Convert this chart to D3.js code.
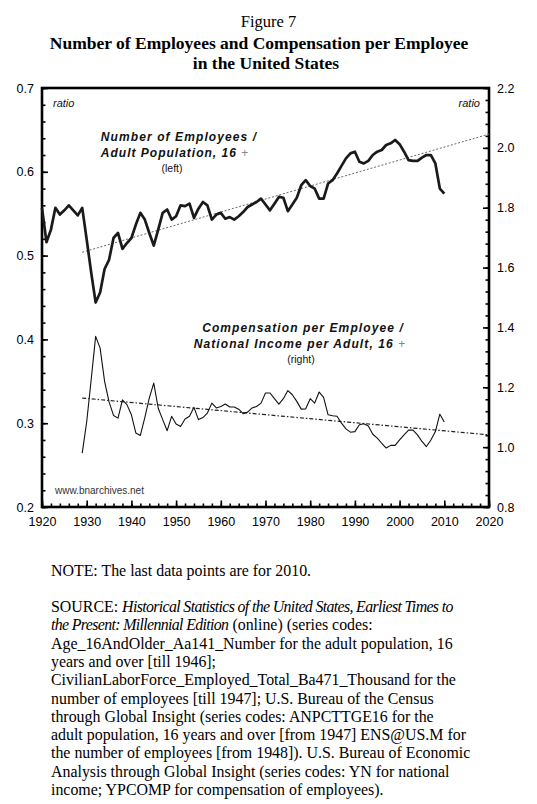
<!DOCTYPE html>
<html>
<head>
<meta charset="utf-8">
<script src="https://cdn.jsdelivr.net/npm/d3@7"></script>
<style>
  html, body { margin: 0; padding: 0; background: #fff; }
  svg { display: block; }
</style>
</head>
<body>
<svg id="chart" width="537" height="804"></svg>
<script>
// ---------------- DATA ----------------
const empStartYear = 1920;
// Number of employees / adult population 16+ (left axis), 1920-2010
const employeesRatio = [
  0.557, 0.516, 0.531, 0.557, 0.549, 0.554, 0.560, 0.554, 0.548, 0.557,
  0.519, 0.480, 0.444, 0.456, 0.484, 0.495, 0.521, 0.527, 0.508, 0.515,
  0.521, 0.537, 0.551, 0.543, 0.527, 0.512, 0.531, 0.551, 0.555, 0.543,
  0.547, 0.560, 0.559, 0.562, 0.545, 0.556, 0.564, 0.560, 0.543, 0.549,
  0.551, 0.544, 0.546, 0.543, 0.547, 0.552, 0.558, 0.561, 0.564, 0.568,
  0.561, 0.554, 0.562, 0.570, 0.569, 0.553, 0.561, 0.569, 0.584, 0.590,
  0.583, 0.580, 0.568, 0.568, 0.586, 0.590, 0.598, 0.607, 0.616, 0.622,
  0.624, 0.612, 0.610, 0.613, 0.620, 0.624, 0.626, 0.632, 0.634, 0.638,
  0.633, 0.624, 0.614, 0.613, 0.613, 0.617, 0.620, 0.620, 0.610, 0.580,
  0.574
];
const compStartYear = 1929;
// Compensation per employee / national income per adult 16+ (right axis), 1929-2010
const compensationRatio = [
  0.980,
  1.085, 1.225, 1.370, 1.331, 1.220, 1.151, 1.106, 1.097, 1.158, 1.142,
  1.108, 1.047, 1.039, 1.099, 1.164, 1.214, 1.130, 1.092, 1.055, 1.103,
  1.077, 1.069, 1.094, 1.103, 1.133, 1.092, 1.099, 1.114, 1.147, 1.131,
  1.136, 1.144, 1.134, 1.134, 1.127, 1.112, 1.117, 1.131, 1.136, 1.147,
  1.181, 1.181, 1.162, 1.144, 1.162, 1.189, 1.175, 1.153, 1.127, 1.128,
  1.162, 1.147, 1.184, 1.166, 1.108, 1.105, 1.103, 1.080, 1.061, 1.050,
  1.052, 1.075, 1.078, 1.071, 1.043, 1.030, 1.013, 0.997, 1.006, 1.006,
  1.024, 1.041, 1.057, 1.057, 1.041, 1.019, 1.002, 1.024, 1.052, 1.110,
  1.084
];
// Trend lines (endpoints)
const trendYears = [1929, 2020];
const empTrend = [0.504, 0.645];
const compTrend = [1.164, 1.041];

// Axis ticks
const xTicks = [1920, 1930, 1940, 1950, 1960, 1970, 1980, 1990, 2000, 2010, 2020];
const leftTicks = [0.2, 0.3, 0.4, 0.5, 0.6, 0.7];
const rightTicks = [0.8, 1.0, 1.2, 1.4, 1.6, 1.8, 2.0, 2.2];

// Texts
const titleLines = ["Figure 7", "Number of Employees and Compensation per Employee", "in the United States"];
const noteText = "NOTE: The last data points are for 2010.";
const sourceLines = [
  [["SOURCE: ", false], ["Historical Statistics of the United States, Earliest Times to", true]],
  [["the Present: Millennial Edition", true], [" (online) (series codes:", false]],
  [["Age_16AndOlder_Aa141_Number for the adult population, 16", false]],
  [["years and over [till 1946];", false]],
  [["CivilianLaborForce_Employed_Total_Ba471_Thousand for the", false]],
  [["number of employees [till 1947]; U.S. Bureau of the Census", false]],
  [["through Global Insight (series codes: ANPCTTGE16 for the", false]],
  [["adult population, 16 years and over [from 1947] ENS@US.M for", false]],
  [["the number of employees [from 1948]). U.S. Bureau of Economic", false]],
  [["Analysis through Global Insight (series codes: YN for national", false]],
  [["income; YPCOMP for compensation of employees).", false]]
];

// ---------------- LAYOUT ----------------
const svg = d3.select("#chart");
const L = 42, R = 489, T = 88, B = 507;
const sans = "'Liberation Sans', Arial, Helvetica, sans-serif";
const serif = "'Liberation Serif', 'Times New Roman', serif";

const x = d3.scaleLinear().domain([1920, 2020]).range([L, R]);
const yL = d3.scaleLinear().domain([0.2, 0.7]).range([B, T]);
const yR = d3.scaleLinear().domain([0.8, 2.2]).range([B, T]);

// Title
const title = svg.append("g").attr("font-family", serif).attr("text-anchor", "middle").attr("fill", "#000");
title.append("text").attr("x", 268.5).attr("y", 27).attr("font-size", 16.5).text(titleLines[0]);
title.append("text").attr("x", 259).attr("y", 48.5).attr("font-size", 17.5).attr("font-weight", "bold").text(titleLines[1]);
title.append("text").attr("x", 266).attr("y", 68.5).attr("font-size", 17.5).attr("font-weight", "bold").text(titleLines[2]);

// Axes helpers
function styleAxis(g) {
  g.select(".domain").remove();
  g.selectAll(".tick line").attr("stroke", "#000").attr("stroke-width", 1.6);
  g.selectAll(".tick text").attr("font-family", sans).attr("font-size", 12.5).attr("fill", "#000");
}
function minorRange(a, b, step) {
  const out = [];
  const n = Math.round((b - a) / step);
  for (let i = 0; i <= n; i++) out.push(+(a + i * step).toFixed(4));
  return out;
}

// Left axis: minor ticks then major
svg.append("g").attr("transform", `translate(${L},0)`)
  .call(d3.axisLeft(yL).tickValues(minorRange(0.2, 0.7, 0.02)).tickSizeInner(-3.5).tickSizeOuter(0).tickFormat(""))
  .call(styleAxis);
svg.append("g").attr("transform", `translate(${L},0)`)
  .call(d3.axisLeft(yL).tickValues(leftTicks).tickSizeInner(-6).tickSizeOuter(0).tickPadding(8).tickFormat(d3.format(".1f")))
  .call(styleAxis);

// Right axis
svg.append("g").attr("transform", `translate(${R},0)`)
  .call(d3.axisRight(yR).tickValues(minorRange(0.8, 2.2, 0.04)).tickSizeInner(-3.5).tickSizeOuter(0).tickFormat(""))
  .call(styleAxis);
svg.append("g").attr("transform", `translate(${R},0)`)
  .call(d3.axisRight(yR).tickValues(rightTicks).tickSizeInner(-6).tickSizeOuter(0).tickPadding(8).tickFormat(d3.format(".1f")))
  .call(styleAxis);

// Bottom axis
svg.append("g").attr("transform", `translate(0,${B})`)
  .call(d3.axisBottom(x).tickValues(minorRange(1920, 2020, 2)).tickSizeInner(-3.5).tickSizeOuter(0).tickFormat(""))
  .call(styleAxis);
svg.append("g").attr("transform", `translate(0,${B})`)
  .call(d3.axisBottom(x).tickValues(xTicks).tickSizeInner(-6.5).tickSizeOuter(0).tickPadding(10).tickFormat(d3.format("d")))
  .call(styleAxis);

// Frame
svg.append("rect").attr("x", L).attr("y", T).attr("width", R - L).attr("height", B - T)
  .attr("fill", "none").attr("stroke", "#000").attr("stroke-width", 2.6);

// Trend lines
const trendLineL = d3.line().x((d, i) => x(trendYears[i])).y(d => yL(d));
const trendLineR = d3.line().x((d, i) => x(trendYears[i])).y(d => yR(d));
svg.append("path").attr("d", trendLineL(empTrend)).attr("fill", "none")
  .attr("stroke", "#666").attr("stroke-width", 1).attr("stroke-dasharray", "2,1.8");
svg.append("path").attr("d", trendLineR(compTrend)).attr("fill", "none")
  .attr("stroke", "#222").attr("stroke-width", 1.2).attr("stroke-dasharray", "4,2,1.5,2");

// Data lines
const empLine = d3.line().x((d, i) => x(empStartYear + i)).y(d => yL(d));
const compLine = d3.line().x((d, i) => x(compStartYear + i)).y(d => yR(d));
svg.append("path").attr("d", compLine(compensationRatio)).attr("fill", "none")
  .attr("stroke", "#111").attr("stroke-width", 1.1).attr("stroke-linejoin", "round");
svg.append("path").attr("d", empLine(employeesRatio)).attr("fill", "none")
  .attr("stroke", "#1a1a1a").attr("stroke-width", 2.7).attr("stroke-linejoin", "round");

// Annotations
const ann = svg.append("g").attr("font-family", sans).attr("fill", "#111");
ann.append("text").attr("x", 53).attr("y", 107).attr("font-size", 11).attr("font-style", "italic").text("ratio");
ann.append("text").attr("x", 480).attr("y", 107).attr("font-size", 11).attr("font-style", "italic").attr("text-anchor", "end").text("ratio");

function label(cx, cy, txt, opts) {
  const t = ann.append("text").attr("x", cx).attr("y", cy).attr("text-anchor", "middle")
    .attr("font-size", opts.size).attr("letter-spacing", opts.ls || 0);
  if (opts.bold) t.attr("font-weight", "bold").attr("font-style", "italic");
  if (opts.plus) {
    t.append("tspan").text(txt);
    t.append("tspan").attr("fill", "#888").attr("font-weight", "normal").attr("font-style", "normal").text(" +");
  } else {
    t.text(txt);
  }
  return t;
}
label(179, 141, "Number of Employees /", {size: 12, bold: true, ls: 1.1});
label(175, 156.5, "Adult Population, 16", {size: 12, bold: true, ls: 1.0, plus: true});
label(172, 171.5, "(left)", {size: 10.5});
label(303, 332, "Compensation per Employee /", {size: 12, bold: true, ls: 1.1});
label(300, 348, "National Income per Adult, 16", {size: 12, bold: true, ls: 1.1, plus: true});
label(301, 363, "(right)", {size: 10.5});

ann.append("text").attr("x", 55).attr("y", 494).attr("font-size", 10).attr("fill", "#333").text("www.bnarchives.net");

// Notes
const notes = svg.append("g").attr("font-family", serif).attr("font-size", 15.9).attr("fill", "#000");
notes.append("text").attr("x", 51).attr("y", 576).text(noteText);
sourceLines.forEach((parts, i) => {
  const t = notes.append("text").attr("x", 51).attr("y", 612 + i * 18.3);
  parts.forEach(([s, it]) => {
    const sp = t.append("tspan").text(s);
    if (it) sp.attr("font-style", "italic").attr("letter-spacing", -0.65);
  });
});
</script>
</body>
</html>
